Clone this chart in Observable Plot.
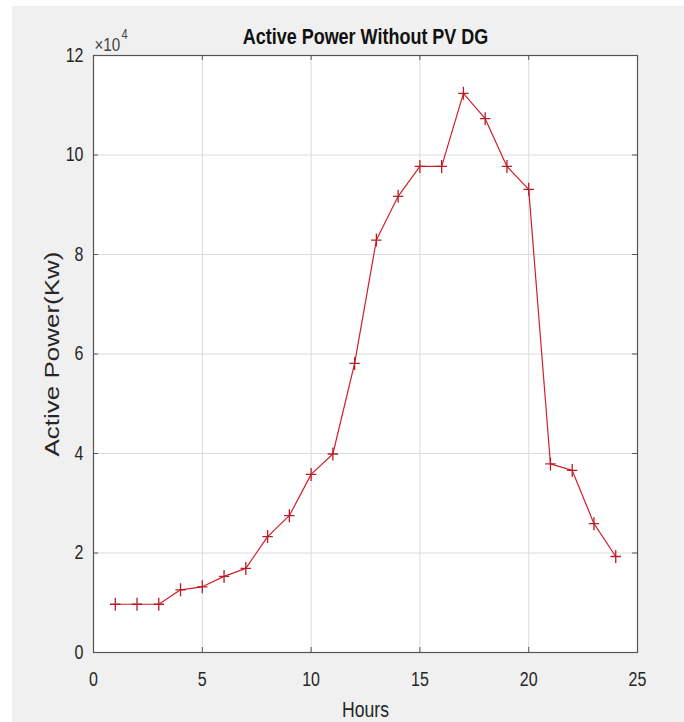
<!DOCTYPE html>
<html>
<head>
<meta charset="utf-8">
<script src="https://cdn.jsdelivr.net/npm/d3@7"></script>
<script src="https://cdn.jsdelivr.net/npm/@observablehq/plot@0.6"></script>
<style>
  html, body { margin: 0; padding: 0; background: #ffffff; width: 684px; height: 722px; overflow: hidden; }
  #bg { position: absolute; left: 12px; top: 6px; right: 0; bottom: 0; background: #f0f0f0; }
  #chart { position: absolute; left: 0; top: 0; }
</style>
</head>
<body>
<div id="bg"></div>
<div id="chart"></div>
<script>
const hours = [1,2,3,4,5,6,7,8,9,10,11,12,13,14,15,16,17,18,19,20,21,22,23,24];
const activePowerKw = [9700,9700,9700,12600,13200,15300,16900,23300,27500,35800,39900,58100,82900,91700,97700,97700,112400,107300,97700,93100,37900,36600,25900,19300];
const xTicks = [0,5,10,15,20,25];
const yTicks = [0,20000,40000,60000,80000,100000,120000];
const titleText = "Active Power Without PV DG";
const xLabel = "Hours";
const yLabel = "Active Power(Kw)";

const data = hours.map((h, i) => ({hour: h, power: activePowerKw[i]}));

const font = "'Liberation Sans', Arial, Helvetica, sans-serif";
const red = "#d0202a";
const markRed = "#b81c26";
const ink = "#262626";
const W = 684, H = 722, mL = 93, mR = 47, mT = 55, mB = 70;
const pw = W - mL - mR, ph = H - mT - mB;

// plus marker, slightly narrower than tall (as in the reference picture)
const plusSymbol = {
  draw(context, size) {
    const r = Math.sqrt(size / Math.PI);
    const rx = r * 0.8;
    context.moveTo(-rx, 0); context.lineTo(rx, 0);
    context.moveTo(0, -r); context.lineTo(0, r);
  }
};

const chart = Plot.plot({
  width: W, height: H,
  marginLeft: mL, marginRight: mR, marginTop: mT, marginBottom: mB,
  style: {background: "transparent", fontFamily: font, fontSize: "20px", color: ink},
  x: {domain: [0, 25]},
  y: {domain: [0, 120000]},
  marks: [
    Plot.frame({fill: "white", stroke: null}),
    Plot.gridX(xTicks, {stroke: "#dadada", strokeOpacity: 1}),
    Plot.gridY(yTicks, {stroke: "#dadada", strokeOpacity: 1}),
    Plot.line(data, {x: "hour", y: "power", stroke: red, strokeWidth: 1.2}),
    Plot.dot(data, {x: "hour", y: "power", symbol: plusSymbol, r: 6.5, stroke: markRed, strokeWidth: 1.3, fill: "none"}),
    Plot.frame({stroke: "#555555", strokeWidth: 1.2}),
    Plot.tickX(xTicks, {x: d => d, insetTop: ph - 5, stroke: "#555555"}),
    Plot.tickX(xTicks, {x: d => d, insetBottom: ph - 5, stroke: "#555555"}),
    Plot.tickY(yTicks, {y: d => d, insetRight: pw - 5, stroke: "#555555"}),
    Plot.tickY(yTicks, {y: d => d, insetLeft: pw - 5, stroke: "#555555"}),
    Plot.axisX(xTicks, {tickSize: 0, tickPadding: 19, label: null, fontSize: 20, fill: ink}),
    Plot.axisY(yTicks, {tickSize: 0, tickPadding: 10, label: null, fontSize: 20, fill: ink, tickFormat: d => d / 1e4}),
    Plot.text([titleText], {frameAnchor: "top", dy: -19, lineAnchor: "middle", fontSize: 22.5, fontWeight: "bold", fill: "#111"}),
    Plot.text(["×10"], {frameAnchor: "top-left", dx: 1, dy: -11, textAnchor: "start", lineAnchor: "middle", fontSize: 19, fill: "#444"}),
    Plot.text(["4"], {frameAnchor: "top-left", dx: 28, dy: -21, textAnchor: "start", lineAnchor: "middle", fontSize: 14, fill: "#444"}),
    Plot.text([xLabel], {frameAnchor: "bottom", dy: 57, lineAnchor: "middle", fontSize: 22, fill: ink}),
    Plot.text([yLabel], {frameAnchor: "left", dx: -41, rotate: -90, textAnchor: "middle", lineAnchor: "middle", fontSize: 26, fill: ink})
  ]
});
document.getElementById("chart").appendChild(chart);

// The reference text is horizontally condensed: squeeze each text around its anchor.
const squeeze = 0.8;
chart.querySelectorAll("text").forEach(t => {
  const bb = t.getBBox();
  const m = t.transform.baseVal.consolidate();
  const mat = m ? m.matrix : chart.createSVGMatrix();
  const pts = [[bb.x, bb.y], [bb.x + bb.width, bb.y], [bb.x, bb.y + bb.height], [bb.x + bb.width, bb.y + bb.height]]
    .map(([x, y]) => mat.a * x + mat.c * y + mat.e);
  const minX = Math.min(...pts), maxX = Math.max(...pts);
  const anchor = getComputedStyle(t).textAnchor;
  const rotated = Math.abs(mat.b) > 0.5;
  let ax = (minX + maxX) / 2;
  if (!rotated && anchor === "end") ax = maxX;
  else if (!rotated && anchor === "start") ax = minX;
  const g = document.createElementNS("http://www.w3.org/2000/svg", "g");
  g.setAttribute("transform", `translate(${ax},0) scale(${squeeze},1) translate(${-ax},0)`);
  t.parentNode.insertBefore(g, t);
  g.appendChild(t);
});
</script>
</body>
</html>
